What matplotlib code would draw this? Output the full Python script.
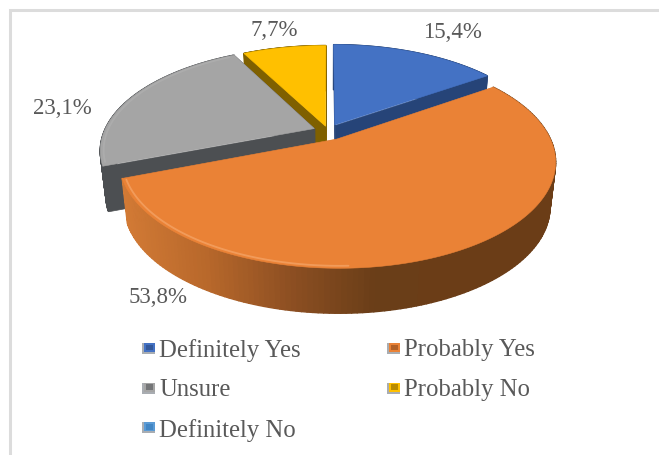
import matplotlib
matplotlib.use("Agg")
import matplotlib.pyplot as plt
import numpy as np
from matplotlib.collections import PolyCollection
from matplotlib.colors import LinearSegmentedColormap
from matplotlib.patches import Polygon, Rectangle

# Survey answers, percent of respondents
categories = ["Definitely Yes", "Probably Yes", "Unsure", "Probably No", "Definitely No"]
values = [15.4, 53.8, 23.1, 7.7, 0.0]

top_colors = ["#4472c4", "#ea8236", "#a5a5a5", "#ffc000", "#5b9bd5"]
side_colors = ["#264478", "#84471c", "#4c4f52", "#7f6000", "#2e75b6"]
explode = [0.07, 0.09, 0.07, 0.05, 0.0]

# Pie geometry in pixels
CX, CY = 328, 132
RX, RY = 210, 99
PERSP = 0.205
DEPTH = 45
BOTTOM_SCALE = 0.975

TEXT_COLOR = "#595959"
plt.rcParams["font.family"] = ["Liberation Serif", "DejaVu Serif"]

orange_wall = LinearSegmentedColormap.from_list(
    "orange_wall", ["#d27a35", "#b8682b", "#8d4f22", "#6a3e18", "#6b3d17"]
)


def project(u, v):
    w = 1 - PERSP * v
    return CX + RX * u / w, CY + RY * v / w


def drop(x, y):
    # Same point on the underside of the disc
    return CX + (x - CX) * BOTTOM_SCALE, y + DEPTH


def wall_quads(xs, ys):
    bx, by = drop(xs, ys)
    quads = []
    for i in range(len(xs) - 1):
        quads.append([(xs[i], ys[i]), (xs[i + 1], ys[i + 1]), (bx[i + 1], by[i + 1]), (bx[i], by[i])])
    return quads


def slice_offset(start, end, exp):
    # Pull a slice out along its own bisector
    mid = np.radians((start + end) / 2)
    return exp * np.sin(mid), -exp * np.cos(mid)


def draw_slice(ax, start, end, exp, top, side, shade_wall=False):
    ou, ov = slice_offset(start, end, exp)
    t = np.radians(np.linspace(start, end, 160))
    ax_, ay_ = project(ou, ov)
    ex, ey = project(ou + np.sin(t), ov - np.cos(t))

    # Cut faces from the centre out to both ends of the arc
    for px, py in [(ex[0], ey[0]), (ex[-1], ey[-1])]:
        qx = np.array([ax_, px])
        qy = np.array([ay_, py])
        ax.add_collection(PolyCollection(wall_quads(qx, qy), facecolors=side, edgecolors=side, linewidths=0.5))

    # Outer wall, shaded along x for the big slice
    quads = wall_quads(ex, ey)
    if shade_wall:
        frac = np.clip((ex[:-1] - 122) / 340, 0, 1)
        colors = orange_wall(frac)
    else:
        colors = side
    ax.add_collection(PolyCollection(quads, facecolors=colors, edgecolors=colors, linewidths=1.0))

    xs = np.concatenate([[ax_], ex])
    ys = np.concatenate([[ay_], ey])
    ax.add_patch(Polygon(np.column_stack([xs, ys]), closed=True, facecolor=top, edgecolor=top, linewidth=0.4))


def draw_rim(ax, start, end, exp, rim_from, rim_to, color, alpha):
    # Soft bevel highlight just inside the outer edge
    ou, ov = slice_offset(start, end, exp)
    t = np.radians(np.linspace(rim_from, rim_to, 120))
    x, y = project(ou + 0.985 * np.sin(t), ov - 0.985 * np.cos(t))
    ax.plot(x, y, color=color, lw=1.3, alpha=alpha, solid_capstyle="round")


fig = plt.figure(figsize=(6.59, 4.56), dpi=100)
ax = fig.add_axes([0, 0, 1, 1])
ax.set_xlim(0, 659)
ax.set_ylim(456, 0)
ax.axis("off")

# Chart frame, top and left sides only reach the page
ax.plot([10, 10, 659], [456, 11, 11], color="#dcdcdc", lw=2.2, solid_joinstyle="miter")

# Slice angles clockwise from twelve o'clock, painted back to front
total = sum(values)
edges = np.concatenate([[0], np.cumsum(values)]) / total * 360
order = sorted(
    [i for i in range(len(values)) if values[i] > 0],
    key=lambda i: -np.cos(np.radians((edges[i] + edges[i + 1]) / 2)),
)
for i in order:
    draw_slice(ax, edges[i], edges[i + 1], explode[i], top_colors[i], side_colors[i], shade_wall=(i == 1))
    if i == 1:
        draw_rim(ax, edges[i], edges[i + 1], explode[i], 178, edges[i + 1] - 1, "#f4a264", 0.8)
    if i == 2:
        draw_rim(ax, edges[i], edges[i + 1], explode[i], edges[i] + 2, edges[i + 1] - 2, "#b4b4b4", 0.5)

# Percent labels
label_pos = {0: (452, 33), 1: (158, 298), 2: (62, 109), 3: (274, 30)}
for i, (lx, ly) in label_pos.items():
    ax.text(lx, ly, f"{values[i]:.1f}%".replace(".", ","), color=TEXT_COLOR, fontsize=16.5, ha="center", va="center")

# Legend, two columns
col_x = [142, 387]
row_y = [349, 389, 429]
for i, name in enumerate(categories):
    kx = col_x[i % 2]
    ky = row_y[i // 2]
    ax.add_patch(Rectangle((kx, ky - 5.5), 13, 11, facecolor="#a9adb2", edgecolor="none"))
    ax.add_patch(Rectangle((kx + 2, ky - 5.5), 11, 9, facecolor=top_colors[i], edgecolor="none"))
    ax.add_patch(Rectangle((kx + 4, ky - 3.5), 7, 5.5, facecolor=side_colors[i], edgecolor="none", alpha=0.55))
    ax.text(kx + 17, ky + 1.5, name, color=TEXT_COLOR, fontsize=17.8, ha="left", va="center")

fig.savefig("out.png", dpi=100, facecolor="white")
